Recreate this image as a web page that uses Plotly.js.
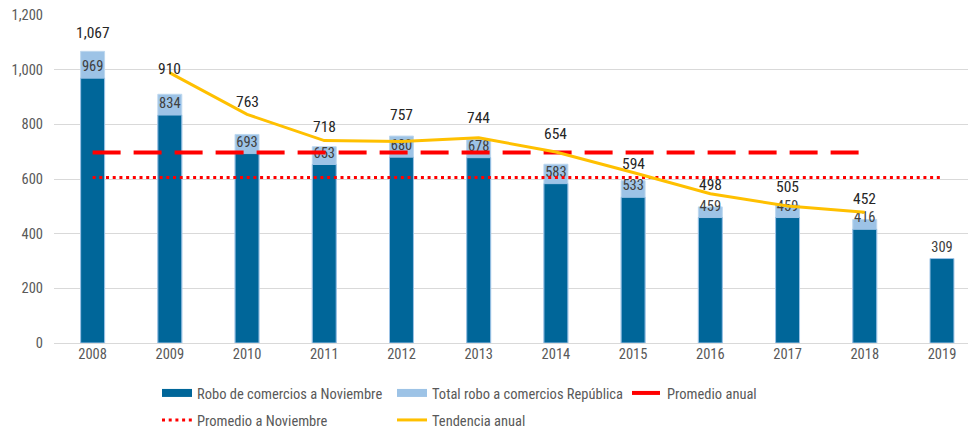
<!DOCTYPE html>
<html>
<head>
<meta charset="utf-8">
<script src="https://cdn.plot.ly/plotly-3.0.1.min.js"></script>
<style>
  html, body { margin: 0; padding: 0; background: #ffffff; }
  #chart { width: 968px; height: 430px; }
</style>
</head>
<body>
<div id="chart"></div>
<script>
// ---- data ----
const years = ['2008','2009','2010','2011','2012','2013','2014','2015','2016','2017','2018','2019'];
const roboNoviembre = [969, 834, 693, 653, 680, 678, 583, 533, 459, 459, 416, 309];
const totalRepublica = [1067, 910, 763, 718, 757, 744, 654, 594, 498, 505, 452, null];
const promedioAnual = [696.5, 696.5, 696.5, 696.5, 696.5, 696.5, 696.5, 696.5, 696.5, 696.5, 696.5, null];
const promedioNoviembre = [605.5, 605.5, 605.5, 605.5, 605.5, 605.5, 605.5, 605.5, 605.5, 605.5, 605.5, 605.5];
const tendenciaAnual = [null, 988.5, 836.5, 740.5, 737.5, 750.5, 699, 624, 546, 501.5, 478.5, null];
const yTicks = [0, 200, 400, 600, 800, 1000, 1200];

// ---- styling ----
const FONT = '"Roboto Condensed", "Liberation Sans Narrow", Roboto, sans-serif';
const FS = 14.5;
const COL_NOV = '#006699';
const COL_TOT = '#9DC3E6';
const labelLift = [18, 25, 32, 20, 21, 22, 30, 17, 22, 18, 20, 0];
const fmt = v => v.toLocaleString('en-US');

const traces = [
  {
    type: 'bar', name: 'Total robo a comercios República', x: years, y: totalRepublica,
    width: 0.31, showlegend: false, legendgroup: 'tot',
    marker: { color: COL_TOT, line: { color: '#BDD7EE', width: 1 } }
  },
  {
    type: 'bar', name: 'Robo de comercios a Noviembre', x: years, y: roboNoviembre,
    width: 0.31, showlegend: false, legendgroup: 'nov',
    marker: { color: COL_NOV, line: { color: COL_TOT, width: 1 } },
    text: roboNoviembre.map(fmt), textposition: 'outside', cliponaxis: false,
    textfont: { family: FONT, size: FS, color: '#404040' }
  },
  // legend keys drawn as wide swatches, as in the reference
  {
    type: 'scatter', mode: 'lines', name: 'Robo de comercios a Noviembre', x: [null], y: [null],
    legend: 'legend', legendrank: 1, legendgroup: 'nov',
    line: { color: COL_NOV, width: 8 }
  },
  {
    type: 'scatter', mode: 'lines', name: 'Total robo a comercios República', x: [null], y: [null],
    legend: 'legend', legendrank: 2, legendgroup: 'tot',
    line: { color: COL_TOT, width: 8 }
  },
  {
    type: 'scatter', mode: 'lines', name: 'Promedio anual', x: years, y: promedioAnual,
    legend: 'legend', legendrank: 3,
    line: { color: '#FF0000', width: 4, dash: '28px,13px' }
  },
  {
    type: 'scatter', mode: 'lines', name: 'Promedio a Noviembre', x: years, y: promedioNoviembre,
    legend: 'legend2', legendrank: 4,
    line: { color: '#FF0000', width: 3, dash: '3px,3.7px' }
  },
  {
    type: 'scatter', mode: 'lines', name: 'Tendencia anual', x: years, y: tendenciaAnual,
    legend: 'legend2', legendrank: 5,
    line: { color: '#FFC000', width: 3 }
  }
];

const annotations = [];
years.forEach((yr, i) => {
  if (totalRepublica[i] === null) return;
  annotations.push({
    x: i, y: totalRepublica[i], xref: 'x', yref: 'y',
    text: fmt(totalRepublica[i]), showarrow: false,
    yanchor: 'middle', yshift: labelLift[i],
    font: { family: FONT, size: 15.5, color: '#262626' }
  });
});

const legendCommon = {
  orientation: 'h', xanchor: 'left', yanchor: 'top',
  entrywidth: 190, bgcolor: 'rgba(0,0,0,0)',
  font: { family: FONT, size: FS, color: '#595959' }
};

const layout = {
  width: 968, height: 430,
  margin: { l: 54, r: 0, t: 15, b: 87, autoexpand: false },
  paper_bgcolor: '#ffffff', plot_bgcolor: '#ffffff',
  font: { family: FONT, size: FS, color: '#595959' },
  barmode: 'overlay',
  showlegend: true,
  xaxis: {
    type: 'category', range: [-0.5, 11.337],
    showgrid: false, zeroline: false, showline: false,
    ticks: '', tickfont: { family: FONT, size: FS, color: '#595959' }
  },
  yaxis: {
    range: [0, 1200], tickvals: yTicks, tickformat: ',d',
    showgrid: true, gridcolor: '#D9D9D9', gridwidth: 1,
    zeroline: true, zerolinecolor: '#D9D9D9', zerolinewidth: 1,
    showline: false, ticks: '', ticklabelstandoff: 10,
    tickfont: { family: FONT, size: FS, color: '#595959' }
  },
  legend: Object.assign({}, legendCommon, { x: 0.1127, y: -0.1037 }),
  legend2: Object.assign({}, legendCommon, { x: 0.1127, y: -0.186 }),
  annotations: annotations
};

Plotly.newPlot('chart', traces, layout, { displayModeBar: false, staticPlot: true });
</script>
</body>
</html>
